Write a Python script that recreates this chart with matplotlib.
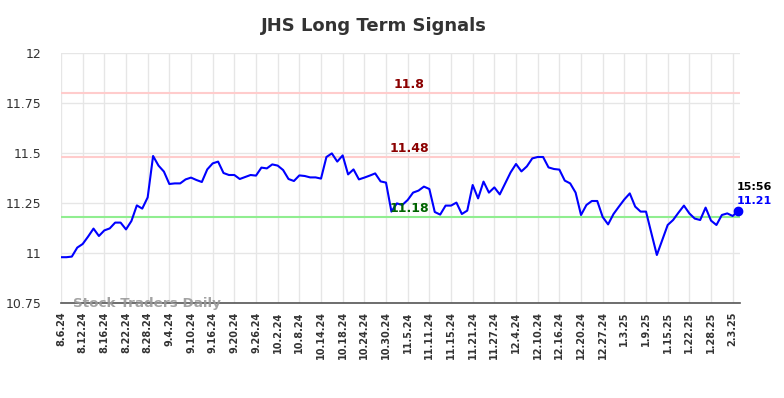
import matplotlib.pyplot as plt

# tick labels (every 4th trading day)
tick_labels = ['8.6.24', '8.12.24', '8.16.24', '8.22.24', '8.28.24', '9.4.24', '9.10.24',
               '9.16.24', '9.20.24', '9.26.24', '10.2.24', '10.8.24', '10.14.24', '10.18.24',
               '10.24.24', '10.30.24', '11.5.24', '11.11.24', '11.15.24', '11.21.24',
               '11.27.24', '12.4.24', '12.10.24', '12.16.24', '12.20.24', '12.27.24',
               '1.3.25', '1.9.25', '1.15.25', '1.22.25', '1.28.25', '2.3.25']

# daily prices
prices = [10.979, 10.979, 10.982, 11.027, 11.045, 11.082, 11.122, 11.085, 11.113, 11.123,
          11.152, 11.152, 11.118, 11.160, 11.238, 11.222, 11.278, 11.485, 11.437, 11.407,
          11.345, 11.348, 11.348, 11.368, 11.377, 11.365, 11.355, 11.418, 11.448, 11.457,
          11.400, 11.390, 11.390, 11.370, 11.380, 11.390, 11.387, 11.427, 11.423, 11.443,
          11.437, 11.415, 11.370, 11.360, 11.388, 11.385, 11.378, 11.378, 11.372, 11.480,
          11.498, 11.457, 11.488, 11.393, 11.418, 11.368, 11.377, 11.387, 11.398, 11.358,
          11.352, 11.207, 11.248, 11.240, 11.265, 11.302, 11.312, 11.332, 11.320, 11.205,
          11.192, 11.237, 11.237, 11.252, 11.195, 11.212, 11.340, 11.273, 11.357, 11.302,
          11.328, 11.293, 11.348, 11.403, 11.445, 11.408, 11.433, 11.473, 11.480, 11.480,
          11.428, 11.420, 11.417, 11.362, 11.348, 11.302, 11.190, 11.240, 11.260, 11.260,
          11.180, 11.143, 11.195, 11.232, 11.268, 11.298, 11.232, 11.207, 11.207, 11.098,
          10.990, 11.065, 11.140, 11.165, 11.202, 11.237, 11.198, 11.172, 11.165, 11.227,
          11.162, 11.140, 11.190, 11.198, 11.185, 11.210]

resistance_hi = 11.8
resistance_lo = 11.48
support = 11.18
last_time = '15:56'

x = list(range(len(prices)))

fig = plt.figure(figsize=(7.84, 3.98), dpi=100)
ax = fig.add_axes([61 / 784, 1 - 303 / 398, (740 - 61) / 784, 250 / 398])

ax.axhline(resistance_hi, color='#ffcccc', lw=1.5, zorder=1)
ax.axhline(resistance_lo, color='#ffcccc', lw=1.5, zorder=1)
ax.axhline(support, color='#90ee90', lw=1.5, zorder=1)

ax.plot(x, prices, color='blue', lw=1.5, zorder=3)
ax.plot(x[-1], prices[-1], 'o', color='blue', ms=6, zorder=4, clip_on=False)

# level labels
mid = 64.3
ax.text(mid, resistance_hi + 0.008, str(resistance_hi), color='#8b0000', fontsize=9,
        fontweight='bold', ha='center', va='bottom')
ax.text(mid, resistance_lo + 0.008, str(resistance_lo), color='#8b0000', fontsize=9,
        fontweight='bold', ha='center', va='bottom')
ax.text(mid, support + 0.008, str(support), color='#006400', fontsize=9,
        fontweight='bold', ha='center', va='bottom')

# last value labels
ax.text(x[-1] - 0.3, prices[-1] + 0.12, last_time, color='black', fontsize=8,
        fontweight='bold', ha='left', va='center', clip_on=False)
ax.text(x[-1] - 0.3, prices[-1] + 0.05, f'{prices[-1]:.2f}', color='blue', fontsize=8,
        fontweight='bold', ha='left', va='center', clip_on=False)

ax.text(2.2, 10.75, 'Stock Traders Daily', color='#999999', fontsize=9.7,
        fontweight='bold', ha='left', va='center', alpha=0.9, zorder=5)

ax.set_xlim(0, 125.35)
ax.set_ylim(10.75, 12)
ax.set_yticks([10.75, 11, 11.25, 11.5, 11.75, 12])
ax.set_yticklabels(['10.75', '11', '11.25', '11.5', '11.75', '12'])
ax.set_xticks(list(range(0, 4 * len(tick_labels), 4)))
ax.set_xticklabels(tick_labels, rotation=90, fontweight='bold', fontsize=7)

ax.grid(True, color='#e6e6e6', lw=1)
ax.set_axisbelow(True)
for s in ['top', 'right', 'left']:
    ax.spines[s].set_visible(False)
ax.spines['bottom'].set_color('#555555')
ax.spines['bottom'].set_linewidth(1.2)
ax.tick_params(axis='both', length=0, colors='#333333')
ax.tick_params(axis='y', labelsize=9, pad=14)
ax.tick_params(axis='x', pad=6)

fig.text(374 / 784, 1 - 26 / 398, 'JHS Long Term Signals', fontsize=13, fontweight='bold',
         color='#333333', ha='center', va='center')

fig.savefig('out.png', dpi=100)
